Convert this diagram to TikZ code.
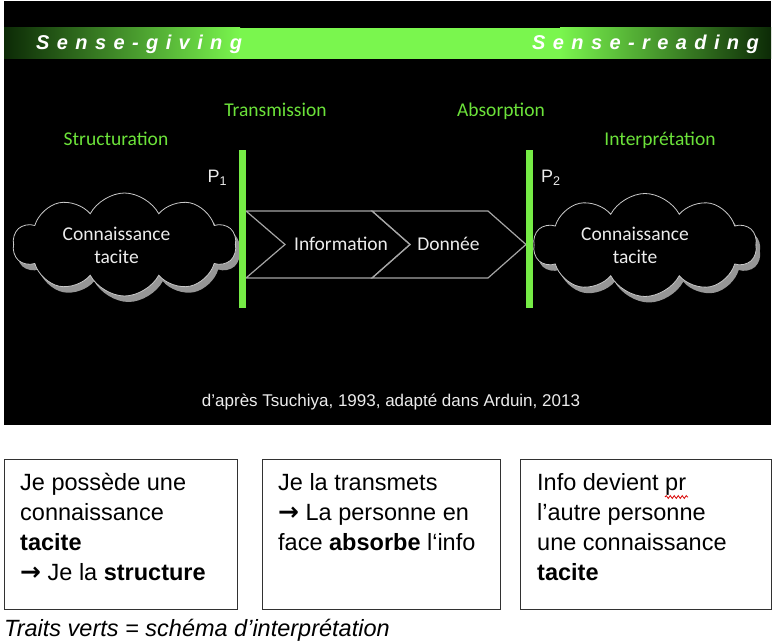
\documentclass[tikz,border=0pt]{standalone}
\usepackage{fontspec}
\setmainfont{Carlito}
\newfontfamily\arialf{Liberation Sans}
\newfontfamily\dejaf{DejaVu Sans}
\usetikzlibrary{shapes.symbols,decorations.pathmorphing}
\newcommand\lsp{\kern 7.4pt}
\newcommand\bigarr{{\dejaf\bfseries\fontsize{25}{25}\selectfont →}}
\definecolor{bandgreen}{RGB}{122,246,78}
\definecolor{banddark}{RGB}{12,42,6}
\definecolor{labgreen}{RGB}{108,226,58}
\definecolor{bargreen}{RGB}{118,236,70}
\definecolor{chevgray}{RGB}{165,165,165}
\definecolor{softwhite}{RGB}{236,236,236}
\definecolor{shadowgray}{RGB}{150,150,150}
\definecolor{boxline}{RGB}{50,50,50}
\begin{document}
\begin{tikzpicture}[x=1pt,y=-1pt,
  lab/.style={text=labgreen, font=\fontsize{19.5}{21}\selectfont, inner sep=0, anchor=base},
  sense/.style={text=white, font=\arialf\bfseries\itshape\fontsize{20}{21}\selectfont, inner sep=0, anchor=west},
  cloudbase/.style={cloud, cloud puffs=10, cloud puff arc=125, cloud ignores aspect, minimum width=223, minimum height=103, inner sep=0},
  cloudmain/.style={cloudbase, draw=softwhite!85!black, line width=0.8, fill=black},
  cloudshadow/.style={cloudbase, fill=shadowgray, draw=none},
  cloudtxt/.style={text=softwhite, font=\fontsize{19.5}{23}\selectfont, align=center, inner sep=0, anchor=base},
  chevron/.style={draw=chevgray, line width=1.2},
  chevtxt/.style={text=softwhite, font=\fontsize{19.5}{21}\selectfont, inner sep=0, anchor=base},
  plab/.style={text=softwhite, font=\arialf\fontsize{18}{20}\selectfont, inner sep=0, anchor=west},
  greenbar/.style={fill=bargreen},
  notebox/.style={draw=boxline, line width=0.8},
  notetxt/.style={text=black, font=\arialf\fontsize{23.5}{30}\selectfont, align=left, inner sep=0, anchor=base west},
]
\useasboundingbox (0,0) rectangle (784,644);
\fill[white] (0,0) rectangle (784,644);
% black panel
\fill[black] (4,1) rectangle (771,425);
% green band
\shade[left color=banddark, right color=bandgreen] (4,28) rectangle (240,59);
\fill[bandgreen] (239.5,28) rectangle (560.5,59);
\shade[left color=bandgreen, right color=banddark] (560,28) rectangle (771,59);
\node[sense] (sg) at (36,44) {S\lsp e\lsp n\lsp s\lsp e\lsp -\lsp g\lsp i\lsp v\lsp i\lsp n\lsp g};
\node[sense] (sr) at (532,44) {S\lsp e\lsp n\lsp s\lsp e\lsp -\lsp r\lsp e\lsp a\lsp d\lsp i\lsp n\lsp g};
% green labels
\node[lab] (struct) at (116,146) {Structuration};
\node[lab] (trans) at (275.5,117) {Transmission};
\node[lab] (absor) at (501,117) {Absorption};
\node[lab] (interp) at (660,146) {Interprétation};
% clouds
\node[cloudshadow] (c1s) at (128.5,250.5) {};
\node[cloudmain] (c1) at (124.5,244.5) {};
\node[cloudshadow] (c2s) at (649,251) {};
\node[cloudmain] (c2) at (645,245) {};
\node[cloudtxt] (t1) at (116.5,264) {Connaissance\\tacite};
\node[cloudtxt] (t2) at (635,264) {Connaissance\\tacite};
% chevrons
\draw[chevron] (246,211) -- (372,211) -- (410,244.5) -- (372,278) -- (246,278) -- (285,244.5) -- cycle;
\draw[chevron] (372,211) -- (488,211) -- (526,244.5) -- (488,278) -- (372,278) -- (410,244.5) -- cycle;
\node[chevtxt] (info) at (341,251) {Information};
\node[chevtxt] (donnee) at (448.5,251) {Donnée};
% bars
\fill[greenbar] (239,150) rectangle (246,308);
\fill[greenbar] (526,150) rectangle (532.5,308);
\node[plab] (p1) at (207.5,178) {P\textsubscript{1}};
\node[plab] (p2) at (541,178) {P\textsubscript{2}};
% caption
\node[text=softwhite, font=\arialf\fontsize{17}{20}\selectfont, inner sep=0] (cap) at (391,402) {d’après Tsuchiya, 1993, adapté dans Arduin, 2013};
% note boxes
\draw[notebox] (4,459) rectangle (237,609);
\draw[notebox] (262,459) rectangle (500,609);
\draw[notebox] (520,459) rectangle (771,609);
\node[notetxt] (n1) at (20,580) {Je possède une\\connaissance\\\textbf{tacite}\\\bigarr\ Je la \textbf{structure}};
\node[notetxt] (n2) at (278,550) {Je la transmets\\\bigarr\ La personne en\\face \textbf{absorbe} l‘info};
\node[notetxt] (n3) at (537,580) {Info devient pr\\l’autre personne\\une connaissance\\\textbf{tacite}};
\draw[red!85!black, line width=0.8, decorate, decoration={snake, segment length=4, amplitude=1.4}] (665,497) -- (688,497);
\node[text=black, font=\arialf\itshape\fontsize{23.5}{26}\selectfont, inner sep=0, anchor=base west] (foot) at (4,636) {Traits verts = schéma d’interprétation};
\end{tikzpicture}
\end{document}
